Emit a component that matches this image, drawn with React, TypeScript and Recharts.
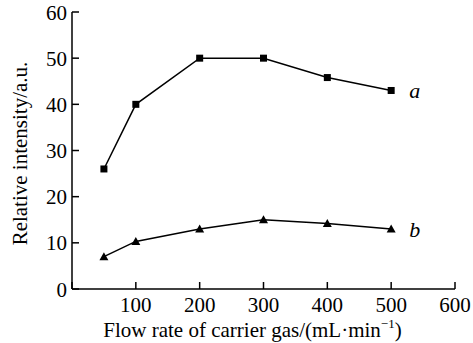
import React from 'react';
import { LineChart, Line, XAxis, YAxis, Label, LabelList } from 'recharts';

const flowRates = [50, 100, 200, 300, 400, 500];
const seriesA = [26, 40, 50, 50, 45.8, 43];
const seriesB = [7, 10.3, 13, 15, 14.2, 13];
const xTicks = [0, 100, 200, 300, 400, 500, 600];
const yTicks = [0, 10, 20, 30, 40, 50, 60];
const seriesNames = ['a', 'b'];

const data = flowRates.map((f, i) => ({ flow: f, a: seriesA[i], b: seriesB[i] }));

const textStyle: React.CSSProperties = { fontFamily: "'Liberation Serif', 'Times New Roman', Times, serif" };

const SquareDot = (props: any) => {
  const { cx, cy } = props;
  if (cx == null || cy == null) return null;
  return <rect x={cx - 3.5} y={cy - 3.5} width={7} height={7} fill="#000" />;
};

const TriDot = (props: any) => {
  const { cx, cy } = props;
  if (cx == null || cy == null) return null;
  return <path d={`M${cx},${cy - 4.5} L${cx + 4.5},${cy + 3.5} L${cx - 4.5},${cy + 3.5} Z`} fill="#000" />;
};

const XTick = (props: any) => {
  const { x, y, payload } = props;
  if (payload.value === 0) return null;
  return (
    <text x={x} y={y} dy="0.71em" textAnchor="middle" style={textStyle} fontSize={21} fill="#000">
      {payload.value}
    </text>
  );
};

const YTick = (props: any) => {
  const { x, y, payload } = props;
  return (
    <text x={x} y={y} dy="0.36em" textAnchor="end" style={textStyle} fontSize={21} fill="#000">
      {payload.value}
    </text>
  );
};

const endLabel = (name: string) => (props: any) => {
  const { x, y, index } = props;
  if (index !== flowRates.length - 1) return null;
  return (
    <text x={x + 18} y={y} dy="0.35em" style={textStyle} fontStyle="italic" fontSize={22} fill="#000">
      {name}
    </text>
  );
};

const YTitle = (props: any) => {
  const vb = props.viewBox || {};
  const cy = (vb.y ?? 12) + (vb.height ?? 277) / 2 + 3;
  const cx = 20;
  return (
    <text
      x={cx}
      y={cy}
      transform={`rotate(-90, ${cx}, ${cy})`}
      textAnchor="middle"
      dominantBaseline="central"
      style={textStyle}
      fontSize={21}
      fill="#000"
    >
      Relative intensity/a.u.
    </text>
  );
};

const XTitle = (props: any) => {
  const vb = props.viewBox || {};
  const cx = (vb.x ?? 72) + (vb.width ?? 383) / 2 - 11;
  return (
    <text x={cx} y={337} textAnchor="middle" style={textStyle} fontSize={21} fill="#000">
      Flow rate of carrier gas/(mL·min
      <tspan fontSize={13} dy={-9}>−1</tspan>
      <tspan dy={9}>)</tspan>
    </text>
  );
};

export default function App() {
  return (
    <div style={{ position: 'absolute', left: 0, top: 0 }}>
      <LineChart
        width={473}
        height={343}
        data={data}
        margin={{ top: 12, right: 18, bottom: 0, left: 0 }}
      >
        <XAxis
          dataKey="flow"
          type="number"
          domain={[0, 600]}
          ticks={xTicks}
          height={54}
          tickSize={-7}
          tickMargin={15}
          axisLine={{ stroke: '#000', strokeWidth: 1.5 }}
          tickLine={{ stroke: '#000', strokeWidth: 1.5 }}
          tick={<XTick />}
        >
          <Label content={<XTitle />} />
        </XAxis>
        <YAxis
          type="number"
          domain={[0, 60]}
          ticks={yTicks}
          width={72}
          tickSize={-7}
          tickMargin={12}
          axisLine={{ stroke: '#000', strokeWidth: 1.5 }}
          tickLine={{ stroke: '#000', strokeWidth: 1.5 }}
          tick={<YTick />}
        >
          <Label content={<YTitle />} />
        </YAxis>
        <Line
          dataKey="a"
          stroke="#000"
          strokeWidth={1.5}
          dot={<SquareDot />}
          activeDot={false}
          isAnimationActive={false}
        >
          <LabelList dataKey="a" content={endLabel(seriesNames[0])} />
        </Line>
        <Line
          dataKey="b"
          stroke="#000"
          strokeWidth={1.5}
          dot={<TriDot />}
          activeDot={false}
          isAnimationActive={false}
        >
          <LabelList dataKey="b" content={endLabel(seriesNames[1])} />
        </Line>
      </LineChart>
    </div>
  );
}
